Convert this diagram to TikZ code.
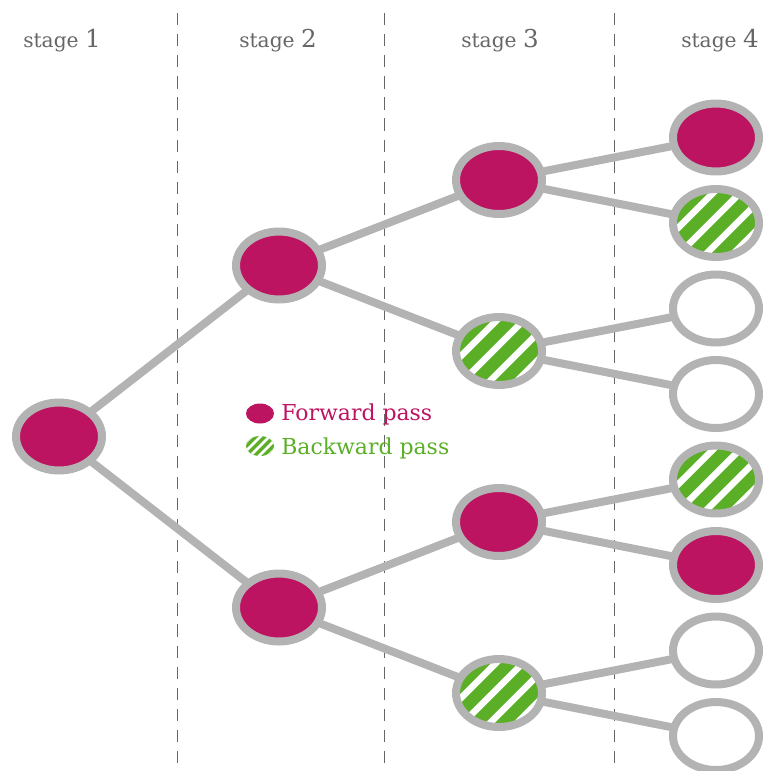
\documentclass[tikz,border=0pt]{standalone}
\usepackage{fontspec}
\setmainfont{DejaVu Serif}
\usetikzlibrary{shapes.geometric, backgrounds}
\definecolor{passmagenta}{HTML}{BD1462}
\definecolor{passgreen}{HTML}{5BAF26}
\definecolor{treegray}{HTML}{B3B3B3}
\definecolor{labelgray}{HTML}{666666}
\definecolor{dashgray}{HTML}{666666}

\begin{document}
\begin{tikzpicture}[x=0.02cm, y=-0.02cm]
  % Styles
  \tikzstyle{stagenode} = [ellipse, draw=treegray, line width=0.16cm,
    minimum width=1.72cm, minimum height=1.36cm, inner sep=0pt, fill=white]
  \tikzstyle{fwd} = [fill=passmagenta]
  \tikzstyle{bwd} = [fill=passgreen, path picture={
      \foreach \k in {-8,...,8}
        \draw[white, line width=0.13cm]
          ([xshift=\k*0.54cm-0.12cm]path picture bounding box.center) ++(-2cm,-2cm) -- ++(4cm,4cm);
    }]
  \tikzstyle{smallbwd} = [fill=passgreen, path picture={
      \foreach \k in {-8,...,8}
        \draw[white, line width=0.05cm]
          ([xshift=\k*0.18cm]path picture bounding box.center) ++(-1cm,-1cm) -- ++(2cm,2cm);
    }]
  \tikzstyle{edge} = [draw=treegray, line width=0.16cm]
  \tikzstyle{stagelabel} = [anchor=base, text=labelgray, inner sep=0pt]
  \tikzstyle{marker} = [ellipse, minimum width=0.56cm, minimum height=0.4cm, inner sep=0pt]

  \useasboundingbox (0,0) rectangle (763,771);

  % Stage labels
  \node[stagelabel] (lab1) at (62,47) {\fontsize{11.5}{13}\selectfont stage \fontsize{14}{15}\selectfont 1};
  \node[stagelabel] (lab2) at (278,47) {\fontsize{11.5}{13}\selectfont stage \fontsize{14}{15}\selectfont 2};
  \node[stagelabel] (lab3) at (500,47) {\fontsize{11.5}{13}\selectfont stage \fontsize{14}{15}\selectfont 3};
  \node[stagelabel] (lab4) at (720,47) {\fontsize{11.5}{13}\selectfont stage \fontsize{14}{15}\selectfont 4};

  % Stage 1
  \node[stagenode, fwd] (s1) at (59,436.5) {};

  % Stage 2
  \node[stagenode, fwd] (s2a) at (279,265.5) {};
  \node[stagenode, fwd] (s2b) at (279,607.5) {};

  % Stage 3
  \node[stagenode, fwd] (s3a) at (499,180) {};
  \node[stagenode, bwd] (s3b) at (499,351) {};
  \node[stagenode, fwd] (s3c) at (499,522) {};
  \node[stagenode, bwd] (s3d) at (499,693) {};

  % Stage 4
  \node[stagenode, fwd] (s4a) at (716,137.5) {};
  \node[stagenode, bwd] (s4b) at (716,223) {};
  \node[stagenode] (s4c) at (716,308.5) {};
  \node[stagenode] (s4d) at (716,394) {};
  \node[stagenode, bwd] (s4e) at (716,479.5) {};
  \node[stagenode, fwd] (s4f) at (716,565) {};
  \node[stagenode] (s4g) at (716,650.5) {};
  \node[stagenode] (s4h) at (716,736) {};

  % Legend
  \node[marker, fill=passmagenta] (fwdkey) at (260,413.5) {};
  \node[marker, smallbwd] (bwdkey) at (260,446) {};
  \node[anchor=base west, inner sep=0pt, text=passmagenta] (fwdtext) at (281,420)
    {\fontsize{12.5}{15}\selectfont Forward pass};
  \node[anchor=base west, inner sep=0pt, text=passgreen] (bwdtext) at (281,454)
    {\fontsize{12.5}{15}\selectfont Backward pass};

  \begin{scope}[on background layer]
    % Stage separators
    \draw[dashgray, line width=0.5pt, dash pattern=on 7pt off 5pt] (177,13) -- (177,771);
    \draw[dashgray, line width=0.5pt, dash pattern=on 7pt off 5pt] (384,13) -- (384,771);
    \draw[dashgray, line width=0.5pt, dash pattern=on 7pt off 5pt] (614,13) -- (614,771);

    % Tree edges
    \draw[edge] (s1.center) -- (s2a.center);
    \draw[edge] (s1.center) -- (s2b.center);
    \draw[edge] (s2a.center) -- (s3a.center);
    \draw[edge] (s2a.center) -- (s3b.center);
    \draw[edge] (s2b.center) -- (s3c.center);
    \draw[edge] (s2b.center) -- (s3d.center);
    \draw[edge] (s3a.center) -- (s4a.center);
    \draw[edge] (s3a.center) -- (s4b.center);
    \draw[edge] (s3b.center) -- (s4c.center);
    \draw[edge] (s3b.center) -- (s4d.center);
    \draw[edge] (s3c.center) -- (s4e.center);
    \draw[edge] (s3c.center) -- (s4f.center);
    \draw[edge] (s3d.center) -- (s4g.center);
    \draw[edge] (s3d.center) -- (s4h.center);
  \end{scope}

\end{tikzpicture}
\end{document}
